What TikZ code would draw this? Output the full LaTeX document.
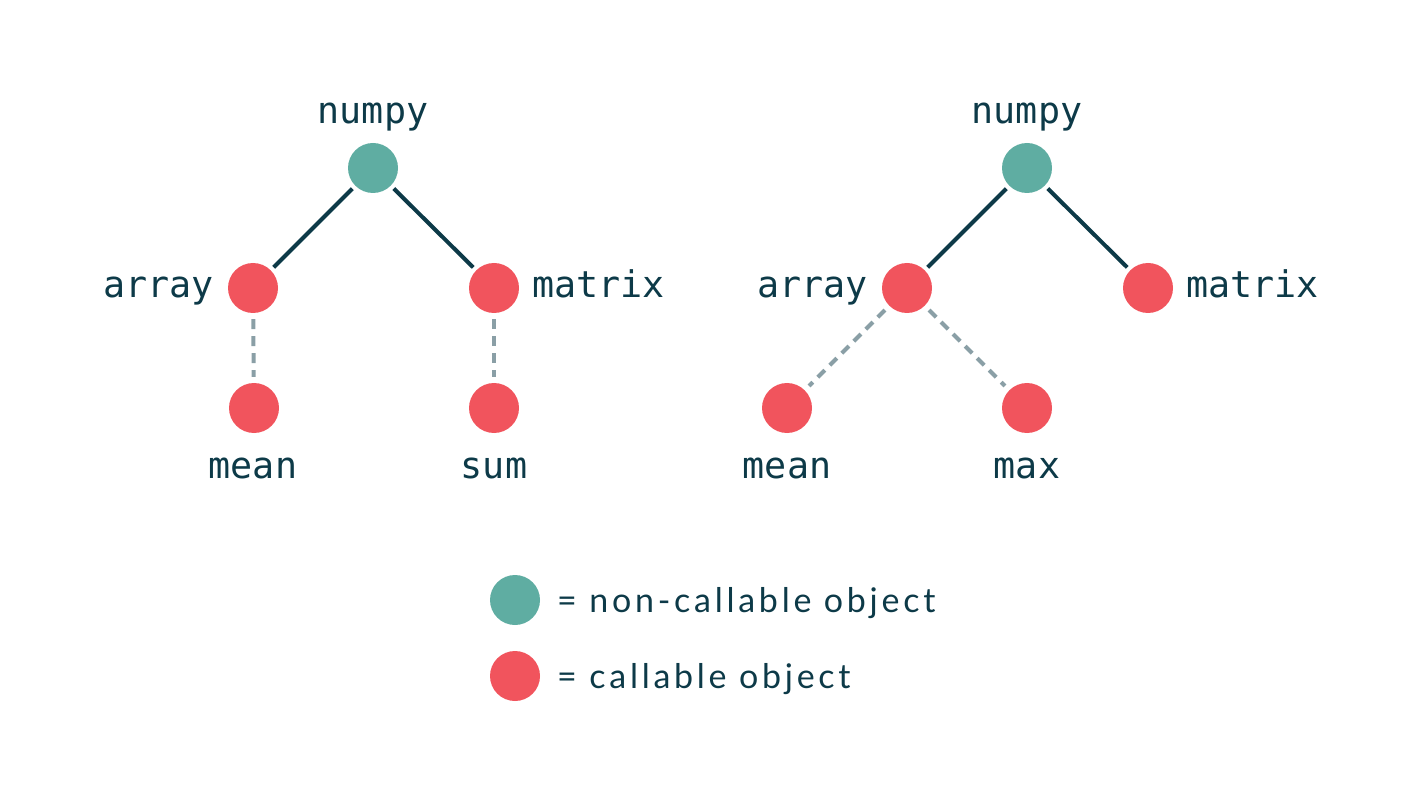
\documentclass[tikz,border=0pt]{standalone}
\usepackage{fontspec}
\setmonofont{DejaVu Sans Mono}
\newfontfamily\legendfont{Lato}[LetterSpace=11]
\definecolor{tealc}{HTML}{5FADA2}
\definecolor{redc}{HTML}{F1545D}
\definecolor{inkc}{HTML}{0D3A48}
\definecolor{dashc}{HTML}{8A9FA6}
\begin{document}
\begin{tikzpicture}[x=1pt,y=-1pt,
  obj/.style={circle,minimum size=50pt,inner sep=0pt},
  nc/.style={obj,fill=tealc},
  cl/.style={obj,fill=redc},
  lbl/.style={inner sep=0pt,text=inkc,font=\fontsize{36.7}{40}\ttfamily},
  leg/.style={inner sep=0pt,text=inkc,font=\fontsize{34}{38}\legendfont},
  solidedge/.style={draw=inkc,line width=4pt,shorten <=4pt,shorten >=4pt},
  dashedge/.style={draw=dashc,line width=4pt,dash pattern=on 10pt off 7pt,shorten <=6pt,shorten >=6pt}]
\useasboundingbox (0,0) rectangle (1424,791);
% left tree
\node[nc] (ln) at (373,168) {};
\node[cl] (la) at (253,288) {};
\node[cl] (lm) at (494,288) {};
\node[cl] (lme) at (254,408) {};
\node[cl] (ls) at (494,408) {};
\node[lbl,anchor=base] at (373,124) {numpy};
\node[lbl,anchor=base east] at (214,298) {array};
\node[lbl,anchor=base west] at (532,298) {matrix};
\node[lbl,anchor=base] at (253,478) {mean};
\node[lbl,anchor=base] at (494,478) {sum};
\draw[solidedge] (ln) -- (la);
\draw[solidedge] (ln) -- (lm);
\draw[dashedge] (la) -- (lme);
\draw[dashedge] (lm) -- (ls);
% right tree
\node[nc] (rn) at (1027,168) {};
\node[cl] (ra) at (907,288) {};
\node[cl] (rm) at (1148,288) {};
\node[cl] (rme) at (787,408) {};
\node[cl] (rx) at (1027,408) {};
\node[lbl,anchor=base] at (1027,124) {numpy};
\node[lbl,anchor=base east] at (868,298) {array};
\node[lbl,anchor=base west] at (1186,298) {matrix};
\node[lbl,anchor=base] at (787,478) {mean};
\node[lbl,anchor=base] at (1027,478) {max};
\draw[solidedge] (rn) -- (ra);
\draw[solidedge] (rn) -- (rm);
\draw[dashedge] (ra) -- (rme);
\draw[dashedge] (ra) -- (rx);
% legend
\node[nc] (k1) at (515,600) {};
\node[cl] (k2) at (515,676) {};
\node[leg,anchor=base west] at (557,612) {= non-callable object};
\node[leg,anchor=base west] at (557,688) {= callable object};
\end{tikzpicture}
\end{document}
